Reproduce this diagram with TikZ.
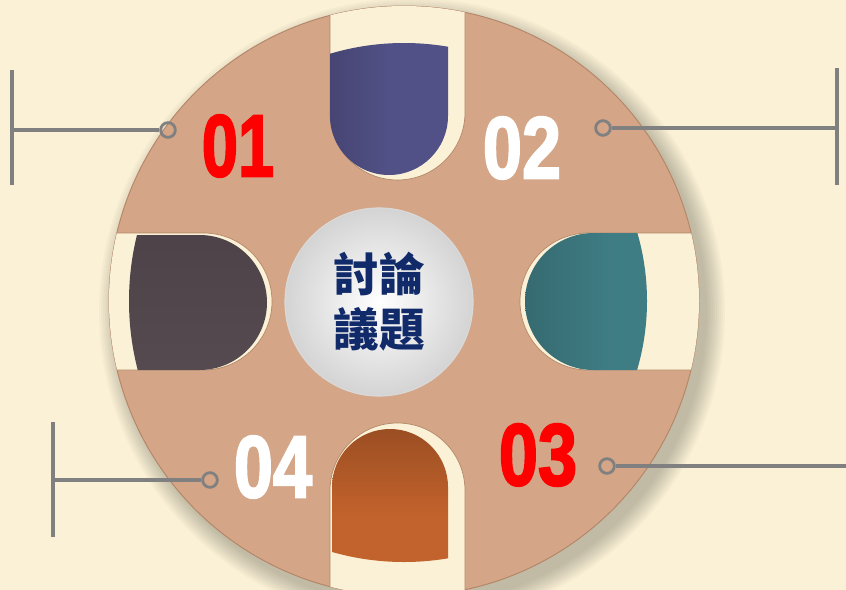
\documentclass[tikz,border=0pt]{standalone}
\usepackage{fontspec}
\newfontfamily\cjkfont{Noto Sans CJK TC}
\newfontfamily\numfont{Liberation Sans}[BoldFeatures={FakeBold=2.5}]
\usetikzlibrary{calc}
\definecolor{parch}{RGB}{250,241,214}
\definecolor{tan}{RGB}{212,166,135}
\definecolor{tanedge}{RGB}{180,134,104}
\definecolor{slotblue}{RGB}{82,81,135}
\definecolor{slotgrey}{RGB}{85,74,80}
\definecolor{slotteal}{RGB}{63,125,132}
\definecolor{slotorange}{RGB}{194,98,44}
\definecolor{linegray}{RGB}{128,128,128}
\definecolor{hubtext}{RGB}{16,42,106}
\definecolor{numred}{RGB}{255,0,0}
\tikzset{
  slotcut/.style={fill=parch, draw=tanedge, line width=0.6pt},
  connector/.style={draw=linegray, line width=3.4pt},
  ringdot/.style={circle, draw=linegray, line width=2.4pt, minimum size=4.4mm, inner sep=0pt},
  numlabel/.style={font=\numfont\bfseries\fontsize{75}{75}\selectfont, inner sep=0pt},
}

\begin{document}
\begin{tikzpicture}[x=0.3mm, y=-0.3mm]
    \clip (0,0) rectangle (846,590);
    \fill[parch] (0,0) rectangle (846,590);

    % coordinates to be reused
    \coordinate (O) at (404,301);
    \coordinate (S) at (412,311);

    % shadow and disk
    \foreach \k in {0,...,9}
      \fill[black, opacity=0.022] (S) circle (295+2*\k);
    \fill[tan, draw=tanedge, line width=0.8pt] (O) circle (295);

    % the four slots
    \begin{scope}
      \clip (O) circle (295);
      \path[slotcut] (330,-20) -- (330,112.5) arc[start angle=180, end angle=0, radius=67.5] -- (465,-20);
      \path[slotcut] (330,610) -- (330,490.5) arc[start angle=180, end angle=360, radius=67.5] -- (465,610);
      \path[slotcut] (90,233) -- (203.5,233) arc[start angle=-90, end angle=90, radius=68.5] -- (90,370);
      \path[slotcut] (720,233) -- (588.5,233) arc[start angle=270, end angle=90, radius=68.5] -- (720,370);
    \end{scope}

    % coloured tabs
    \begin{scope}
      \clip (O) circle (258);
      \shade[left color=slotblue!85!black, right color=slotblue, middle color=slotblue]
        (330,30) -- (330,116) arc[start angle=180, end angle=0, radius=59] -- (448,30) -- cycle;
    \end{scope}
    \begin{scope}
      \clip (O) circle (275);
      \shade[top color=slotgrey!90!black, bottom color=slotgrey]
        (100,235) -- (199.5,235) arc[start angle=-90, end angle=90, radius=67.5] -- (100,370) -- cycle;
    \end{scope}
    \begin{scope}
      \clip (O) circle (243);
      \shade[left color=slotteal!85!black, right color=slotteal, middle color=slotteal]
        (700,233) -- (593.5,233) arc[start angle=270, end angle=90, radius=68.5] -- (700,370) -- cycle;
    \end{scope}
    \begin{scope}
      \clip (O) circle (261);
      \shade[top color=slotorange!80!black, bottom color=slotorange, middle color=slotorange]
        (332,600) -- (332,487) arc[start angle=180, end angle=360, radius=58] -- (448,600) -- cycle;
    \end{scope}

    % hub
    \node[circle, minimum size=56.4mm, inner sep=0pt, inner color=white, outer color=black!17,
          draw=white!85!black, line width=1pt, align=center,
          font=\cjkfont\bfseries\fontsize{39}{47}\selectfont, text=hubtext]
      (hub) at (379,302) {討論\\議題};

    % add labels
    \node[numlabel, text=numred] (n01) at (238,146) {\scalebox{0.74}[1]{01}};
    \node[numlabel, text=white]  (n02) at (522,148) {\scalebox{0.8}[1]{02}};
    \node[numlabel, text=numred] (n03) at (538,455) {\scalebox{0.8}[1]{03}};
    \node[numlabel, text=white]  (n04) at (273,467) {\scalebox{0.8}[1]{04}};

    % connectors
    \node[ringdot] (dot1) at (168,130) {};
    \node[ringdot] (dot2) at (603,128) {};
    \node[ringdot] (dot3) at (607,466) {};
    \node[ringdot] (dot4) at (210,480) {};
    \coordinate (end1) at (12,130);
    \coordinate (end2) at (837,128);
    \coordinate (end3) at (860,466);
    \coordinate (end4) at (53,480);
    \draw[connector] (dot1) -- (end1);
    \draw[connector] (dot2) -- (end2);
    \draw[connector] (dot3) -- (end3);
    \draw[connector] (dot4) -- (end4);
    \draw[connector] ($(end1)+(0,-60)$) -- ($(end1)+(0,55)$);
    \draw[connector] ($(end2)+(0,-60)$) -- ($(end2)+(0,57)$);
    \draw[connector] ($(end4)+(0,-58)$) -- ($(end4)+(0,57)$);
\end{tikzpicture}
\end{document}
